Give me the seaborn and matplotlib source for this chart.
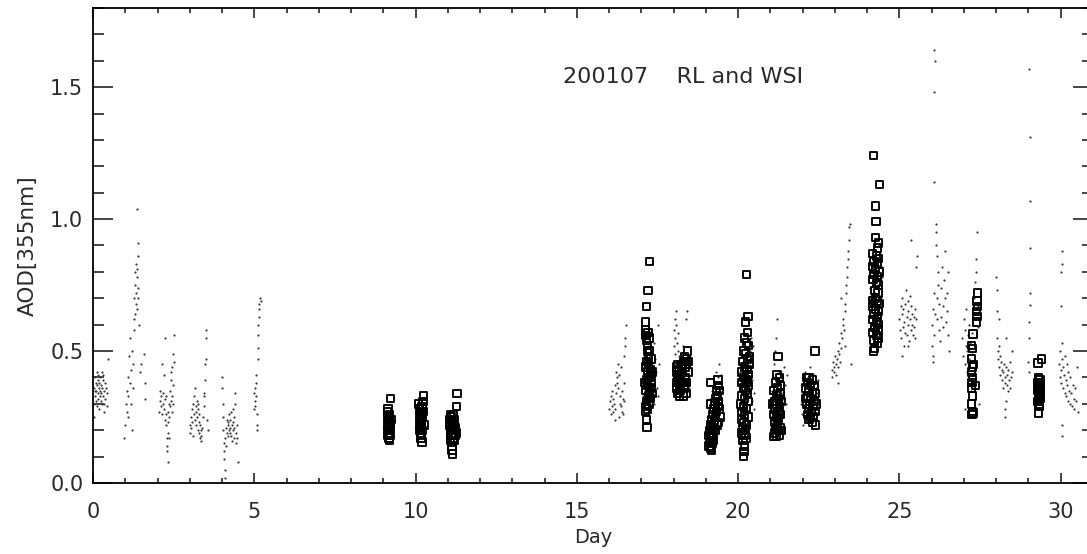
import matplotlib
matplotlib.use("Agg")
import matplotlib.pyplot as plt
from matplotlib.ticker import MultipleLocator, FixedLocator
import seaborn as sns
import pandas as pd

# ---------------- data: RL (small dots), (day, AOD) pairs ----------------
rl_day00 = [(0.02,0.36),(0.04,0.30),(0.05,0.33),(0.06,0.40),(0.08,0.31),(0.09,0.38),(0.10,0.35),(0.11,0.42),(0.12,0.29),(0.13,0.37),
            (0.14,0.34),(0.15,0.39),(0.16,0.32),(0.17,0.41),(0.18,0.36),(0.19,0.28),(0.20,0.38),(0.21,0.33),(0.22,0.40),(0.23,0.35),
            (0.24,0.31),(0.25,0.37),(0.26,0.34),(0.27,0.42),(0.28,0.30),(0.29,0.36),(0.30,0.39),(0.31,0.33),(0.32,0.41),(0.33,0.27),
            (0.34,0.35),(0.36,0.38),(0.38,0.32),(0.40,0.36),(0.42,0.29),(0.44,0.34),(0.46,0.47),(0.03,0.25),(0.07,0.35),(0.35,0.30)]
rl_day01 = [(0.95,0.17),(1.00,0.22),(1.02,0.30),(1.04,0.35),(1.05,0.27),(1.07,0.40),(1.08,0.25),(1.10,0.33),(1.12,0.48),(1.14,0.55),
            (1.15,0.38),(1.18,0.43),(1.20,0.50),(1.22,0.20),(1.24,0.36),(1.25,0.45),(1.27,0.62),(1.28,0.70),(1.30,0.75),(1.31,0.80),
            (1.32,0.68),(1.33,0.72),(1.34,0.83),(1.35,0.78),(1.36,0.66),(1.37,0.81),(1.38,0.74),(1.39,0.86),(1.40,0.91),(1.36,1.04),
            (1.41,0.70),(1.42,0.60),(1.45,0.42),(1.48,0.45),(1.58,0.49),(1.60,0.38),(1.60,0.32),(1.29,0.64),(1.26,0.58),(1.18,0.30)]
rl_day02 = [(2.05,0.27),(2.07,0.31),(2.08,0.35),(2.10,0.29),(2.12,0.33),(2.13,0.45),(2.15,0.26),(2.16,0.30),(2.18,0.34),(2.19,0.41),
            (2.20,0.28),(2.22,0.55),(2.22,0.24),(2.24,0.32),(2.25,0.26),(2.26,0.22),(2.28,0.14),(2.29,0.17),(2.30,0.12),(2.31,0.19),
            (2.32,0.08),(2.33,0.27),(2.34,0.23),(2.35,0.30),(2.36,0.25),(2.37,0.17),(2.38,0.29),(2.40,0.35),(2.42,0.39),(2.43,0.31),
            (2.44,0.44),(2.45,0.27),(2.46,0.33),(2.47,0.37),(2.48,0.30),(2.49,0.49),(2.50,0.46),(2.50,0.56),(2.41,0.42),(2.27,0.33)]
rl_day03 = [(3.00,0.22),(3.02,0.19),(3.04,0.25),(3.05,0.21),(3.07,0.28),(3.08,0.23),(3.10,0.30),(3.11,0.18),(3.13,0.26),(3.14,0.33),
            (3.15,0.24),(3.17,0.36),(3.18,0.29),(3.19,0.27),(3.20,0.22),(3.22,0.31),(3.23,0.25),(3.25,0.20),(3.26,0.28),(3.28,0.23),
            (3.29,0.26),(3.30,0.19),(3.32,0.17),(3.33,0.22),(3.34,0.16),(3.35,0.20),(3.36,0.18),(3.40,0.25),(3.43,0.29),(3.44,0.33),
            (3.45,0.34),(3.47,0.39),(3.48,0.45),(3.49,0.47),(3.50,0.55),(3.51,0.58),(3.52,0.24),(3.55,0.20),(3.38,0.21),(3.27,0.30)]
rl_day04 = [(4.00,0.40),(4.01,0.36),(4.02,0.30),(4.03,0.25),(4.04,0.20),(4.05,0.15),(4.06,0.12),(4.07,0.09),(4.08,0.05),(4.09,0.02),
            (4.10,0.17),(4.12,0.21),(4.14,0.19),(4.15,0.24),(4.17,0.22),(4.18,0.18),(4.20,0.23),(4.21,0.20),(4.22,0.26),(4.24,0.21),
            (4.25,0.19),(4.26,0.24),(4.28,0.18),(4.30,0.22),(4.31,0.16),(4.33,0.23),(4.34,0.20),(4.35,0.28),(4.37,0.17),(4.38,0.21),
            (4.40,0.30),(4.41,0.34),(4.43,0.19),(4.44,0.15),(4.45,0.22),(4.46,0.17),(4.48,0.08),(4.36,0.25),(4.27,0.27),(4.13,0.14)]
rl_day05 = [(4.98,0.28),(5.00,0.34),(5.01,0.36),(5.02,0.31),(5.03,0.29),(5.04,0.38),(5.05,0.41),(5.06,0.33),(5.07,0.22),(5.08,0.20),
            (5.09,0.26),(5.10,0.47),(5.11,0.51),(5.12,0.56),(5.13,0.60),(5.14,0.63),(5.15,0.66),(5.16,0.68),(5.18,0.70),(5.20,0.69)]
rl_day16 = [(16.00,0.28),(16.03,0.31),(16.05,0.26),(16.07,0.33),(16.09,0.29),(16.10,0.35),(16.12,0.27),(16.13,0.32),(16.15,0.30),
            (16.17,0.37),(16.18,0.28),(16.20,0.34),(16.22,0.42),(16.23,0.38),(16.25,0.40),(16.26,0.45),(16.28,0.36),(16.30,0.41),
            (16.32,0.25),(16.34,0.30),(16.35,0.33),(16.37,0.29),(16.39,0.35),(16.40,0.27),(16.42,0.32),(16.44,0.26),(16.45,0.38),
            (16.47,0.48),(16.48,0.52),(16.50,0.55),(16.52,0.60),(16.46,0.31),(16.36,0.44),(16.19,0.24)]
rl_day17 = [(17.05,0.33),(17.08,0.38),(17.10,0.43),(17.12,0.50),(17.14,0.55),(17.16,0.31),(17.18,0.46),(17.20,0.36),(17.22,0.52),
            (17.24,0.41),(17.26,0.29),(17.28,0.48),(17.30,0.57),(17.32,0.34),(17.34,0.44),(17.36,0.39),(17.38,0.53),(17.40,0.30),
            (17.42,0.47),(17.45,0.42),(17.48,0.36),(17.50,0.60),(17.52,0.33),(17.55,0.45)]
rl_day18 = [(18.00,0.52),(18.02,0.58),(18.03,0.62),(18.04,0.49),(18.05,0.55),(18.06,0.60),(18.07,0.65),(18.08,0.45),(18.10,0.53),
            (18.12,0.50),(18.13,0.57),(18.15,0.40),(18.17,0.44),(18.18,0.48),(18.20,0.42),(18.22,0.46),(18.25,0.41),(18.28,0.52),
            (18.30,0.45),(18.32,0.43),(18.35,0.47),(18.38,0.62),(18.40,0.65),(18.42,0.44),(18.45,0.38),(18.48,0.36),(18.12,0.38),(18.27,0.35)]
rl_day19 = [(19.10,0.28),(19.12,0.32),(19.14,0.25),(19.15,0.22),(19.17,0.30),(19.19,0.20),(19.20,0.35),(19.22,0.27),(19.24,0.18),
            (19.25,0.32),(19.27,0.38),(19.28,0.24),(19.30,0.30),(19.32,0.42),(19.34,0.28),(19.36,0.35),(19.38,0.40),(19.40,0.45),
            (19.42,0.33),(19.44,0.38),(19.46,0.30),(19.48,0.41),(19.12,0.16),(19.26,0.14)]
rl_day20 = [(20.00,0.28),(20.03,0.35),(20.05,0.22),(20.07,0.42),(20.09,0.30),(20.10,0.18),(20.12,0.38),(20.14,0.26),(20.16,0.46),
            (20.18,0.32),(20.20,0.24),(20.22,0.40),(20.24,0.29),(20.26,0.36),(20.28,0.20),(20.30,0.44),(20.32,0.33),(20.34,0.27),
            (20.36,0.50),(20.38,0.35),(20.40,0.55),(20.42,0.31),(20.44,0.39),(20.46,0.52),(20.48,0.34),(20.50,0.28)]
rl_day21 = [(21.00,0.30),(21.02,0.25),(21.04,0.35),(21.05,0.21),(21.07,0.28),(21.09,0.40),(21.10,0.33),(21.12,0.45),(21.14,0.27),
            (21.15,0.50),(21.17,0.38),(21.18,0.55),(21.20,0.62),(21.22,0.31),(21.24,0.36),(21.26,0.24),(21.28,0.42),(21.30,0.29),
            (21.32,0.34),(21.35,0.39),(21.38,0.26),(21.40,0.32),(21.42,0.44),(21.45,0.37),(21.48,0.30),(21.50,0.41)]
rl_day22 = [(21.95,0.30),(21.98,0.26),(22.00,0.34),(22.02,0.22),(22.04,0.38),(22.06,0.28),(22.08,0.42),(22.10,0.32),(22.12,0.36),
            (22.14,0.25),(22.16,0.40),(22.18,0.30),(22.20,0.35),(22.22,0.44),(22.25,0.28),(22.28,0.38),(22.30,0.33),(22.33,0.27),
            (22.36,0.41),(22.38,0.31),(22.40,0.36),(22.43,0.29),(22.45,0.34),(22.48,0.39)]
rl_day23 = [(22.90,0.43),(22.92,0.40),(22.94,0.46),(22.96,0.44),(22.98,0.42),(23.00,0.48),(23.02,0.45),(23.04,0.41),(23.06,0.47),
            (23.08,0.50),(23.10,0.44),(23.12,0.49),(23.14,0.53),(23.16,0.46),(23.18,0.51),(23.20,0.57),(23.22,0.55),(23.24,0.60),
            (23.26,0.62),(23.28,0.58),(23.30,0.65),(23.32,0.68),(23.33,0.72),(23.35,0.75),(23.36,0.78),(23.38,0.82),(23.40,0.85),
            (23.42,0.88),(23.43,0.92),(23.44,0.97),(23.48,0.98),(23.50,0.45),(23.20,0.70),(23.10,0.38),(23.30,0.52)]
rl_day24 = [(24.05,0.70),(24.10,0.74),(24.13,0.80),(24.15,0.66),(24.17,0.77),(24.20,0.84),(24.23,0.72),(24.25,0.88),(24.27,0.68),
            (24.30,0.79),(24.33,0.85),(24.35,0.75),(24.38,0.90),(24.41,0.71),(24.45,0.82),(24.47,0.78)]
rl_day25 = [(25.00,0.62),(25.02,0.58),(25.04,0.67),(25.05,0.55),(25.07,0.64),(25.08,0.70),(25.10,0.59),(25.12,0.66),(25.13,0.52),
            (25.15,0.61),(25.17,0.68),(25.18,0.57),(25.20,0.73),(25.22,0.63),(25.23,0.56),(25.25,0.69),(25.27,0.60),(25.28,0.65),
            (25.30,0.54),(25.32,0.71),(25.33,0.62),(25.35,0.58),(25.37,0.67),(25.38,0.64),(25.40,0.60),(25.42,0.56),(25.44,0.63),
            (25.45,0.59),(25.47,0.66),(25.48,0.55),(25.50,0.62),(25.52,0.82),(25.54,0.86),(25.35,0.92),(25.08,0.48),(25.25,0.52)]
rl_day26 = [(26.00,0.52),(26.02,0.60),(26.04,0.66),(26.05,0.48),(26.07,0.72),(26.08,0.56),(26.10,0.64),(26.12,0.90),(26.13,0.95),
            (26.14,0.98),(26.15,0.70),(26.16,0.86),(26.17,0.62),(26.18,0.75),(26.20,0.80),(26.22,0.58),(26.24,0.68),(26.26,0.54),
            (26.28,0.74),(26.30,0.63),(26.32,0.82),(26.34,0.67),(26.36,0.59),(26.38,0.77),(26.40,0.70),(26.42,0.88),(26.44,0.61),
            (26.46,0.72),(26.48,0.65),(26.50,0.56),(26.52,0.80),(26.55,0.50),(26.08,1.14),(26.06,1.48),(26.07,1.64),(26.09,1.60),(26.03,0.46)]
rl_day27 = [(26.95,0.55),(26.97,0.48),(27.00,0.62),(27.02,0.45),(27.04,0.58),(27.05,0.52),(27.07,0.66),(27.08,0.42),(27.10,0.50),
            (27.12,0.56),(27.13,0.38),(27.15,0.47),(27.17,0.60),(27.18,0.44),(27.20,0.53),(27.22,0.35),(27.24,0.49),(27.26,0.57),
            (27.28,0.41),(27.30,0.64),(27.32,0.70),(27.34,0.76),(27.36,0.80),(27.38,0.85),(27.40,0.95),(27.42,0.67),(27.44,0.59),
            (27.46,0.30),(27.03,0.28)]
rl_day28 = [(28.00,0.78),(28.01,0.73),(28.02,0.65),(28.03,0.55),(28.05,0.50),(28.06,0.47),(28.08,0.52),(28.10,0.44),(28.12,0.48),
            (28.13,0.41),(28.15,0.46),(28.17,0.39),(28.18,0.43),(28.20,0.36),(28.22,0.42),(28.24,0.45),(28.26,0.38),(28.28,0.40),
            (28.30,0.44),(28.32,0.37),(28.34,0.41),(28.36,0.35),(28.38,0.43),(28.40,0.39),(28.42,0.46),(28.44,0.36),(28.46,0.40),
            (28.48,0.50),(28.50,0.42),(28.27,0.28),(28.28,0.25),(28.29,0.31),(28.10,0.62),(28.30,0.55)]
rl_day29 = [(29.00,0.46),(29.01,0.42),(29.02,0.55),(29.03,0.61),(29.04,0.675),(29.04,0.72),(29.05,0.89),(29.05,1.07),(29.04,1.31),(29.03,1.57)]
rl_day30 = [(29.95,0.45),(29.97,0.40),(29.98,0.50),(30.00,0.43),(30.02,0.38),(30.03,0.53),(30.05,0.47),(30.07,0.36),(30.08,0.44),
            (30.10,0.41),(30.12,0.34),(30.13,0.48),(30.15,0.39),(30.17,0.33),(30.18,0.45),(30.20,0.37),(30.22,0.31),(30.24,0.42),
            (30.26,0.35),(30.28,0.30),(30.30,0.40),(30.32,0.34),(30.35,0.29),(30.38,0.37),(30.40,0.32),(30.42,0.28),(30.45,0.36),
            (30.48,0.31),(30.50,0.44),(30.52,0.27),(30.05,0.22),(30.05,0.18),(30.00,0.67),(30.02,0.80),(30.03,0.83),(30.04,0.88)]

# ---------------- data: WSI (open squares), (day, AOD) pairs ----------------
wsi_day09 = [(9.12,0.27),(9.13,0.25),(9.14,0.22),(9.15,0.20),(9.15,0.18),(9.16,0.24),(9.17,0.21),(9.17,0.19),(9.18,0.17),(9.18,0.23),
             (9.19,0.26),(9.20,0.20),(9.20,0.16),(9.21,0.22),(9.22,0.18),(9.23,0.21),(9.24,0.24),(9.22,0.32),(9.14,0.28),(9.19,0.17)]
wsi_day10 = [(10.10,0.30),(10.12,0.28),(10.12,0.25),(10.13,0.22),(10.14,0.20),(10.15,0.27),(10.15,0.18),(10.16,0.24),(10.17,0.21),
             (10.18,0.26),(10.18,0.19),(10.19,0.23),(10.20,0.29),(10.21,0.25),(10.22,0.20),(10.23,0.31),(10.24,0.27),(10.25,0.33),
             (10.26,0.22),(10.20,0.155),(10.22,0.28),(10.17,0.17)]
wsi_day11 = [(11.05,0.24),(11.07,0.22),(11.08,0.26),(11.10,0.20),(11.10,0.18),(11.12,0.25),(11.13,0.21),(11.14,0.19),(11.15,0.23),
             (11.16,0.17),(11.17,0.26),(11.18,0.22),(11.19,0.20),(11.20,0.24),(11.21,0.16),(11.22,0.18),(11.24,0.21),(11.26,0.29),
             (11.28,0.34),(11.13,0.14),(11.13,0.125),(11.14,0.11),(11.25,0.19),(11.08,0.16)]
wsi_day17 = [(17.25,0.84),(17.20,0.73),(17.15,0.67),(17.12,0.61),(17.13,0.58),(17.14,0.56),(17.16,0.54),(17.18,0.52),(17.24,0.55),
             (17.26,0.50),(17.22,0.48),(17.16,0.46),(17.30,0.47),(17.14,0.44),(17.20,0.42),(17.28,0.43),(17.24,0.40),(17.16,0.39),
             (17.32,0.38),(17.19,0.37),(17.26,0.36),(17.14,0.35),(17.34,0.34),(17.22,0.33),(17.29,0.32),(17.16,0.31),(17.24,0.30),
             (17.32,0.36),(17.12,0.29),(17.19,0.28),(17.13,0.27),(17.15,0.24),(17.17,0.21),(17.22,0.45),(17.30,0.41),(17.18,0.50),
             (17.10,0.38),(17.26,0.34),(17.20,0.57),(17.34,0.42)]
wsi_day18 = [(18.08,0.44),(18.10,0.42),(18.12,0.40),(18.08,0.38),(18.10,0.36),(18.12,0.34),(18.15,0.43),(18.16,0.39),(18.18,0.37),
             (18.20,0.41),(18.22,0.35),(18.24,0.44),(18.26,0.38),(18.28,0.42),(18.30,0.46),(18.32,0.36),(18.34,0.48),(18.35,0.40),
             (18.36,0.44),(18.38,0.34),(18.40,0.47),(18.42,0.50),(18.44,0.42),(18.40,0.38),(18.30,0.33),(18.18,0.33),(18.14,0.45),
             (18.26,0.45),(18.38,0.45),(18.45,0.46),(18.22,0.39),(18.34,0.37)]
wsi_day19 = [(19.15,0.38),(19.37,0.39),(19.40,0.37),(19.42,0.35),(19.35,0.33),(19.30,0.32),(19.40,0.31),(19.28,0.30),(19.38,0.29),
             (19.25,0.28),(19.33,0.27),(19.20,0.26),(19.30,0.25),(19.18,0.24),(19.26,0.23),(19.15,0.22),(19.35,0.22),(19.22,0.21),
             (19.12,0.20),(19.28,0.20),(19.18,0.19),(19.10,0.18),(19.24,0.18),(19.16,0.17),(19.12,0.16),(19.20,0.15),(19.10,0.14),
             (19.15,0.13),(19.18,0.125),(19.45,0.25),(19.42,0.28),(19.32,0.35),(19.15,0.30),(19.38,0.23),(19.22,0.16)]
wsi_day20 = [(20.25,0.79),(20.30,0.63),(20.22,0.61),(20.28,0.57),(20.20,0.55),(20.25,0.53),(20.32,0.52),(20.18,0.50),(20.22,0.49),
             (20.28,0.47),(20.15,0.46),(20.35,0.45),(20.20,0.44),(20.27,0.43),(20.12,0.42),(20.30,0.41),(20.18,0.40),(20.24,0.39),
             (20.10,0.38),(20.33,0.37),(20.16,0.36),(20.22,0.35),(20.28,0.34),(20.12,0.33),(20.20,0.32),(20.30,0.31),(20.08,0.30),
             (20.16,0.29),(20.25,0.28),(20.12,0.27),(20.20,0.26),(20.32,0.25),(20.10,0.24),(20.18,0.23),(20.26,0.22),(20.14,0.21),
             (20.22,0.20),(20.10,0.19),(20.18,0.18),(20.24,0.17),(20.15,0.16),(20.20,0.14),(20.18,0.12),(20.16,0.10),(20.35,0.48),(20.28,0.38)]
wsi_day21 = [(21.23,0.48),(21.20,0.41),(21.28,0.40),(21.15,0.38),(21.32,0.37),(21.22,0.36),(21.10,0.35),(21.30,0.34),(21.18,0.33),
             (21.25,0.32),(21.12,0.31),(21.35,0.31),(21.20,0.30),(21.28,0.29),(21.14,0.28),(21.24,0.27),(21.32,0.26),(21.10,0.26),
             (21.18,0.25),(21.26,0.24),(21.12,0.23),(21.22,0.22),(21.30,0.21),(21.16,0.21),(21.25,0.20),(21.35,0.20),(21.12,0.19),
             (21.28,0.18),(21.10,0.175),(21.18,0.175),(21.32,0.34),(21.08,0.30)]
wsi_day22 = [(22.38,0.50),(22.12,0.40),(22.20,0.40),(22.30,0.39),(22.15,0.38),(22.25,0.37),(22.35,0.37),(22.10,0.36),(22.20,0.35),
             (22.30,0.34),(22.40,0.34),(22.15,0.33),(22.25,0.32),(22.35,0.31),(22.12,0.30),(22.22,0.30),(22.32,0.29),(22.18,0.28),
             (22.28,0.27),(22.38,0.27),(22.14,0.26),(22.24,0.25),(22.34,0.25),(22.20,0.24),(22.30,0.23),(22.40,0.22),(22.10,0.32),(22.42,0.30)]
wsi_day24 = [(24.20,1.24),(24.38,1.13),(24.25,1.05),(24.27,0.99),(24.25,0.93),(24.36,0.91),(24.32,0.89),(24.17,0.87),(24.28,0.86),
             (24.36,0.85),(24.21,0.84),(24.31,0.83),(24.16,0.82),(24.26,0.81),(24.38,0.80),(24.21,0.79),(24.31,0.78),(24.18,0.77),
             (24.28,0.76),(24.36,0.75),(24.24,0.73),(24.16,0.69),(24.34,0.72),(24.26,0.70),(24.20,0.68),(24.31,0.69),(24.38,0.68),
             (24.16,0.67),(24.26,0.66),(24.36,0.65),(24.21,0.64),(24.31,0.63),(24.18,0.62),(24.28,0.61),(24.36,0.60),(24.24,0.59),
             (24.34,0.58),(24.18,0.57),(24.28,0.56),(24.36,0.55),(24.21,0.54),(24.31,0.53),(24.22,0.51),(24.19,0.50)]
wsi_day27 = [(27.42,0.72),(27.38,0.65),(27.40,0.63),(27.38,0.61),(27.28,0.565),(27.24,0.52),(27.27,0.51),(27.24,0.47),(27.26,0.44),
             (27.24,0.42),(27.27,0.40),(27.25,0.38),(27.35,0.37),(27.24,0.36),(27.26,0.33),(27.24,0.30),(27.27,0.27),(27.25,0.26),
             (27.28,0.265),(27.42,0.67),(27.40,0.69),(27.29,0.45)]
wsi_day29 = [(29.30,0.455),(29.40,0.47),(29.32,0.40),(29.36,0.39),(29.30,0.38),(29.38,0.37),(29.33,0.36),(29.28,0.35),(29.36,0.34),
             (29.31,0.33),(29.38,0.32),(29.30,0.31),(29.35,0.30),(29.33,0.29),(29.32,0.265),(29.37,0.35),(29.29,0.37),(29.34,0.32)]

rl_groups = [rl_day00, rl_day01, rl_day02, rl_day03, rl_day04, rl_day05, rl_day16, rl_day17, rl_day18, rl_day19,
             rl_day20, rl_day21, rl_day22, rl_day23, rl_day24, rl_day25, rl_day26, rl_day27, rl_day28, rl_day29, rl_day30]
wsi_groups = [wsi_day09, wsi_day10, wsi_day11, wsi_day17, wsi_day18, wsi_day19, wsi_day20, wsi_day21, wsi_day22,
              wsi_day24, wsi_day27, wsi_day29]

x_major = [0, 5, 10, 15, 20, 25, 30]
x_labels = ["0", "5", "10", "15", "20", "25", "30"]
y_major = [0.0, 0.5, 1.0, 1.5]
y_labels = ["0.0", "0.5", "1.0", "1.5"]
annotation = "200107    RL and WSI"
x_title = "Day"
y_title = "AOD[355nm]"

rl_df = pd.DataFrame([p for g in rl_groups for p in g], columns=["day", "aod"])
wsi_df = pd.DataFrame([p for g in wsi_groups for p in g], columns=["day", "aod"])

# ---------------- plotting ----------------
sns.set_style("white")
plt.rcParams["font.family"] = ["DejaVu Sans"]

W, H = 1087, 554
fig = plt.figure(figsize=(W / 100, H / 100), dpi=100)
ax = fig.add_axes([93 / W, 1 - 483 / H, (1093 - 93) / W, (483 - 8) / H])

sns.scatterplot(data=rl_df, x="day", y="aod", ax=ax, s=2.5, color="#3a3a3a",
                linewidth=0, marker="o", legend=False)
sns.scatterplot(data=wsi_df, x="day", y="aod", ax=ax, s=28, marker="s",
                facecolor="none", edgecolor="black", linewidth=1.35, legend=False)

ax.set_xlim(0, 31)
ax.set_ylim(0, 1.8)

ax.xaxis.set_major_locator(FixedLocator(x_major))
ax.set_xticklabels(x_labels)
ax.xaxis.set_minor_locator(MultipleLocator(1))
ax.yaxis.set_major_locator(FixedLocator(y_major))
ax.set_yticklabels(y_labels)
ax.yaxis.set_minor_locator(MultipleLocator(0.1))

txt_color = "#2a2a2a"
ax.tick_params(axis="x", which="major", direction="in", length=7.5, width=1.2,
               top=True, bottom=True, pad=14, labelsize=15, labelcolor=txt_color)
ax.tick_params(axis="x", which="minor", direction="in", length=3.8, width=1.2,
               top=True, bottom=True)
ax.tick_params(axis="y", which="major", direction="in", length=14.5, width=1.2,
               left=True, right=True, pad=7, labelsize=15, labelcolor=txt_color)
ax.tick_params(axis="y", which="minor", direction="in", length=8, width=1.2,
               left=True, right=True)

for sp in ax.spines.values():
    sp.set_visible(True)
    sp.set_linewidth(1.3)
    sp.set_color("black")

ax.set_xlabel(x_title, fontsize=14, color=txt_color, labelpad=4)
ax.set_ylabel(y_title, fontsize=15.5, color=txt_color, labelpad=9)

ax.text(14.56, 1.54, annotation, fontsize=16, color=txt_color, ha="left", va="center")

fig.savefig("out.png", dpi=100)
